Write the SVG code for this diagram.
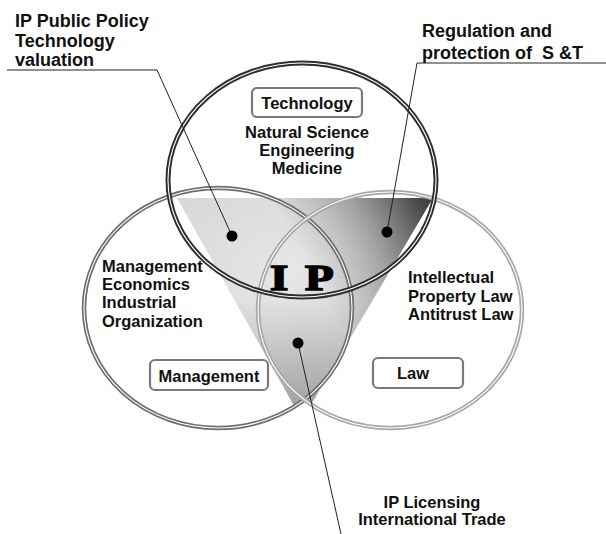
<svg xmlns="http://www.w3.org/2000/svg" width="606" height="534" viewBox="0 0 606 534">
<style>
.t{font-family:"Liberation Sans",Arial,sans-serif;font-weight:bold;fill:#111;white-space:pre;}
.lbl{font-size:18px;}
.in{font-size:16.5px;}
.box{fill:#fff;stroke:#7a7a7a;stroke-width:2.2;}
.gap{fill:none;stroke:#fff;stroke-width:1.1;}
.lead{fill:none;stroke:#222;stroke-width:1;}
.dot{fill:#000;}
</style>
<defs>
<linearGradient id="g" gradientUnits="userSpaceOnUse" x1="240" y1="300" x2="430" y2="198">
<stop offset="0" stop-color="#d6d6d6"/>
<stop offset="0.35" stop-color="#d2d2d2"/>
<stop offset="0.65" stop-color="#959595"/>
<stop offset="1" stop-color="#3c3c3c"/>
</linearGradient>
<radialGradient id="g2" gradientUnits="userSpaceOnUse" cx="290" cy="270" r="140">
<stop offset="0" stop-color="#fff" stop-opacity="0.45"/>
<stop offset="1" stop-color="#fff" stop-opacity="0"/>
</radialGradient>
<linearGradient id="g3" gradientUnits="userSpaceOnUse" x1="0" y1="300" x2="0" y2="410">
<stop offset="0" stop-color="#000" stop-opacity="0"/>
<stop offset="1" stop-color="#000" stop-opacity="0.25"/>
</linearGradient>
<clipPath id="u">
<ellipse cx="218" cy="308" rx="134" ry="120"/>
<ellipse cx="390" cy="310" rx="132" ry="118"/>
<ellipse cx="302" cy="180" rx="134" ry="117"/>
</clipPath>
</defs>
<rect width="606" height="534" fill="#fff"/>
<g id="ip-triangle" clip-path="url(#u)">
<polygon points="177,198 433,198 302,420" fill="url(#g)"/>
<polygon points="177,198 433,198 302,420" fill="url(#g2)"/>
<polygon points="177,198 433,198 302,420" fill="url(#g3)"/>
</g>
<g id="management">
<ellipse cx="218" cy="308" rx="134" ry="120" fill="none" stroke="#6e6e6e" stroke-width="4.5"/>
<ellipse class="gap" cx="218" cy="308" rx="134" ry="120"/>
<text class="t in" x="102" y="272">Management</text>
<text class="t in" x="102" y="290">Economics</text>
<text class="t in" x="102" y="308">Industrial</text>
<text class="t in" x="102" y="327">Organization</text>
<rect class="box" x="150" y="360" width="118" height="30" rx="5"/>
<text class="t in" x="209" y="382" text-anchor="middle">Management</text>
</g>
<g id="law">
<ellipse cx="390" cy="310" rx="132" ry="118" fill="none" stroke="#a8a8a8" stroke-width="4.5"/>
<ellipse class="gap" cx="390" cy="310" rx="132" ry="118"/>
<text class="t in" x="408" y="283">Intellectual</text>
<text class="t in" x="408" y="302">Property Law</text>
<text class="t in" x="408" y="320">Antitrust Law</text>
<rect class="box" x="373" y="358" width="90" height="30" rx="5" stroke="#aaa"/>
<text class="t in" x="413" y="379" text-anchor="middle">Law</text>
</g>
<g id="technology">
<ellipse cx="302" cy="180" rx="134" ry="117" fill="none" stroke="#2e2e2e" stroke-width="5"/>
<ellipse class="gap" cx="302" cy="180" rx="134" ry="117"/>
<rect class="box" x="252" y="88" width="110" height="29" rx="5"/>
<text class="t in" x="307" y="109" text-anchor="middle">Technology</text>
<text class="t in" x="307" y="138" text-anchor="middle">Natural Science</text>
<text class="t in" x="307" y="156" text-anchor="middle">Engineering</text>
<text class="t in" x="307" y="174" text-anchor="middle">Medicine</text>
</g>
<g id="ip-label">
<g transform="translate(270,290) scale(1.3,1)">
<text x="0" y="0" font-family="'Liberation Serif',serif" font-weight="bold" font-size="36" fill="#000" stroke="#000" stroke-width="1.6">I</text>
<text x="27" y="0" font-family="'Liberation Serif',serif" font-weight="bold" font-size="36" fill="#000" stroke="#000" stroke-width="1.6">P</text>
</g>
</g>
<g id="connectors">
<polyline class="lead" points="7,70 157,70 232,236"/>
<polyline class="lead" points="606,63 417,63 387,232"/>
<line class="lead" x1="298" y1="343" x2="341" y2="534"/>
<circle class="dot" cx="232" cy="236" r="5.5"/>
<circle class="dot" cx="387" cy="232" r="5.5"/>
<circle class="dot" cx="298" cy="343" r="5.5"/>
</g>
<g id="label-policy">
<text class="t lbl" x="15" y="27">IP Public Policy</text>
<text class="t lbl" x="15" y="47">Technology</text>
<text class="t lbl" x="15" y="66">valuation</text>
</g>
<g id="label-regulation">
<text class="t lbl" x="422" y="37">Regulation and</text>
<text class="t lbl" x="422" y="59">protection of  S &amp;T</text>
</g>
<g id="label-licensing">
<text class="t in" x="432" y="508" text-anchor="middle">IP Licensing</text>
<text class="t in" x="432" y="525" text-anchor="middle">International Trade</text>
</g>
</svg>
